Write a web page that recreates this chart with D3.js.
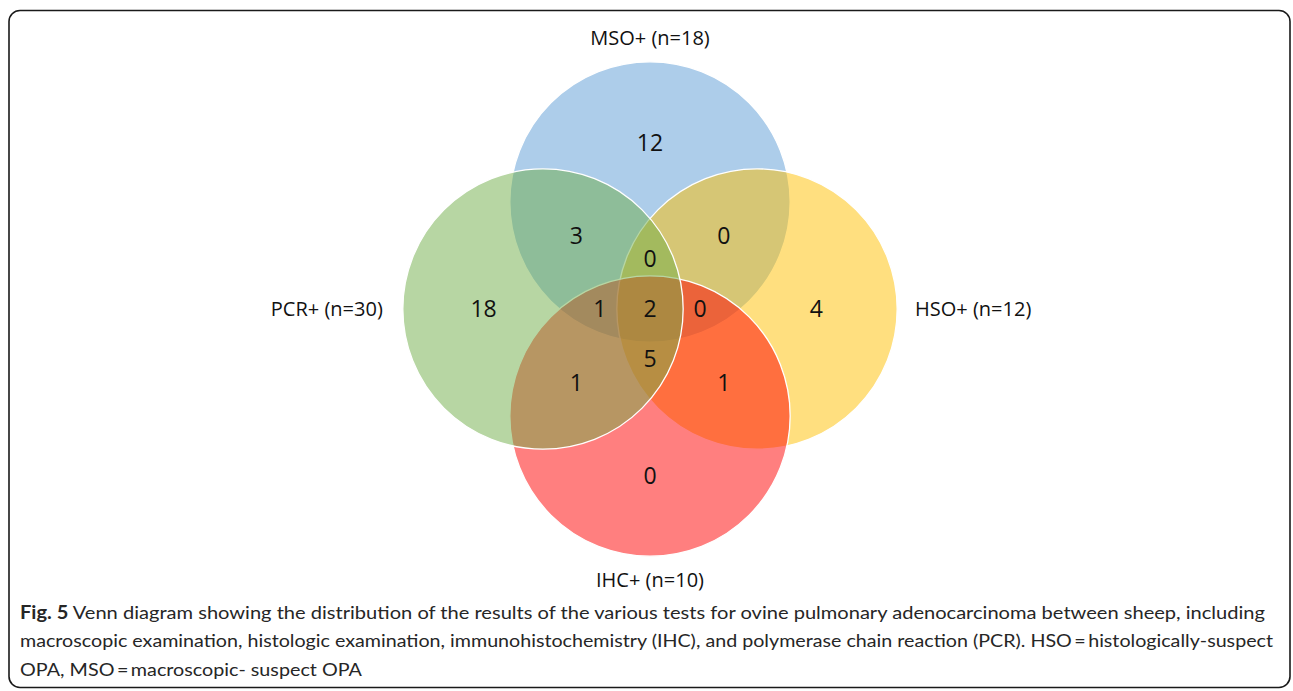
<!DOCTYPE html>
<html>
<head>
<meta charset="utf-8">
<script src="https://cdn.jsdelivr.net/npm/d3@7"></script>
<style>
  html, body { margin: 0; padding: 0; background: #fff; }
  svg { display: block; }
</style>
</head>
<body>
<svg id="chart" width="1293" height="691"></svg>
<script>
// Sets in drawing order (bottom to top)
const setKeys = ["M", "H", "I", "P"];
const setNames = ["MSO+", "HSO+", "IHC+", "PCR+"];
const setSizes = [18, 12, 10, 30];

// Region counts, keyed by the sets that contain the region
const regionKeys = ["M", "MP", "MHP", "MH", "P", "MIP", "MHIP", "MHI", "H", "HIP", "IP", "HI", "I"];
const regionCounts = [12, 3, 0, 0, 18, 1, 2, 0, 4, 5, 1, 1, 0];

const captionLines = [
  ["Fig. 5", " Venn diagram showing the distribution of the results of the various tests for ovine pulmonary adenocarcinoma between sheep, including"],
  ["", "macroscopic examination, histologic examination, immunohistochemistry (IHC), and polymerase chain reaction (PCR). HSO\u2009=\u2009histologically-suspect"],
  ["", "OPA, MSO\u2009=\u2009macroscopic- suspect OPA"]
];

// layout: unit positions of circle centres, one unit = distance between neighbours
const layout = { M: [0, -1], H: [1, 0], I: [0, 1], P: [-1, 0] };
const radiusUnits = 1.31;
const colors = { M: "#5b9bd5", H: "#ffc000", I: "#ff0000", P: "#70ad47" };

const svg = d3.select("#chart");
const width = 1293, height = 691;

const x = d3.scaleLinear().domain([-1, 1]).range([543, 757]);
const y = d3.scaleLinear().domain([-1, 1]).range([202, 416]);
const r = (x(1) - x(0)) * radiusUnits;

// frame
svg.append("rect")
  .attr("x", 9).attr("y", 10.5)
  .attr("width", 1281).attr("height", 677)
  .attr("rx", 11)
  .attr("fill", "none")
  .attr("stroke", "#1a1a1a")
  .attr("stroke-width", 1.6);

const circles = setKeys.map((k, i) => ({
  key: k,
  name: setNames[i],
  size: setSizes[i],
  cx: x(layout[k][0]),
  cy: y(layout[k][1])
}));

svg.append("g")
  .selectAll("circle")
  .data(circles)
  .join("circle")
  .attr("cx", (d) => d.cx)
  .attr("cy", (d) => d.cy)
  .attr("r", r)
  .attr("fill", (d) => colors[d.key])
  .attr("fill-opacity", 0.5)
  .attr("stroke", "#fff")
  .attr("stroke-width", 1.3);

// find the centre of every region by sampling the pixels it covers
const sums = {};
for (let py = 0; py < height; py += 1) {
  for (let px = 0; px < width; px += 1) {
    let key = "";
    circles.forEach((c) => {
      if ((px - c.cx) ** 2 + (py - c.cy) ** 2 <= r * r) key += c.key;
    });
    if (!key) continue;
    key = ["M", "H", "I", "P"].filter((k) => key.includes(k)).join("");
    const s = sums[key] || (sums[key] = { x: 0, y: 0, n: 0 });
    s.x += px; s.y += py; s.n += 1;
  }
}

// pull the labels a little towards the middle of the diagram
const cx0 = x(0), cy0 = y(0);
const pull = 0.94;
const regions = regionKeys.map((k, i) => {
  const s = sums[k];
  return {
    key: k,
    count: regionCounts[i],
    x: cx0 + (s.x / s.n - cx0) * pull,
    y: cy0 + (s.y / s.n - cy0) * pull
  };
});

svg.append("g")
  .selectAll("text")
  .data(regions)
  .join("text")
  .attr("x", (d) => d.x)
  .attr("y", (d) => d.y)
  .attr("dy", "0.36em")
  .attr("text-anchor", "middle")
  .style("font-family", "'Open Sans', sans-serif")
  .style("font-size", "23px")
  .attr("fill", "#111")
  .text((d) => d.count);

// set labels placed outside each circle
const labelDir = { M: [0, -1], H: [1, 0], I: [0, 1], P: [-1, 0] };
svg.append("g")
  .selectAll("text")
  .data(circles)
  .join("text")
  .attr("x", (d) => d.cx + labelDir[d.key][0] * (r + 76))
  .attr("y", (d) => d.cy + labelDir[d.key][1] * (r + 24))
  .attr("dy", "0.36em")
  .attr("text-anchor", "middle")
  .style("font-family", "'Open Sans', sans-serif")
  .style("font-size", "20px")
  .attr("fill", "#111")
  .text((d) => `${d.name} (n=${d.size})`);

// caption
const captionWidths = [1245, 1253, 342];
const caption = svg.append("g")
  .style("font-family", "Lato, 'Open Sans', sans-serif")
  .style("font-size", "18px")
  .attr("fill", "#262626");

captionLines.forEach((line, i) => {
  const t = caption.append("text")
    .attr("x", 20)
    .attr("y", 619 + i * 28.3)
    .attr("textLength", captionWidths[i])
    .attr("lengthAdjust", "spacingAndGlyphs");
  if (line[0]) t.append("tspan").style("font-weight", "bold").text(line[0]);
  t.append("tspan").text(line[1]);
});
</script>
</body>
</html>
